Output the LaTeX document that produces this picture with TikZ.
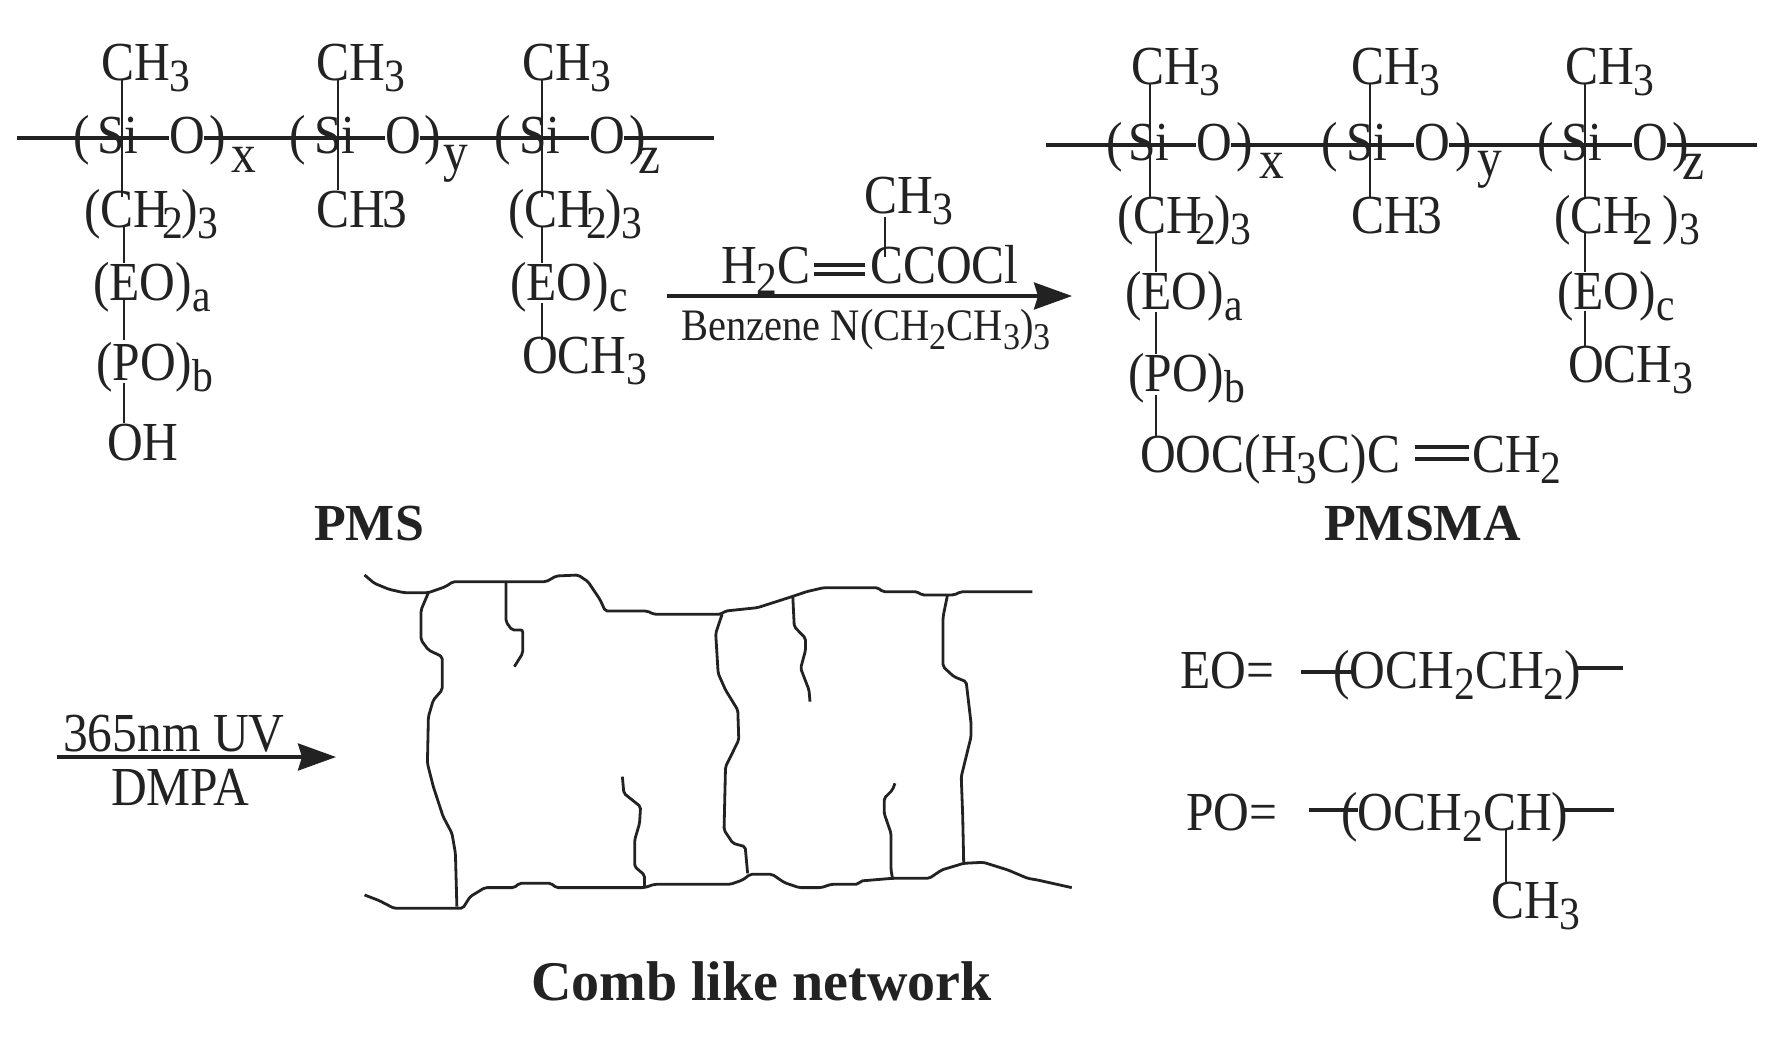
\documentclass[tikz,border=0pt]{standalone}
\usepackage{fontspec}
\usepackage{graphicx}
\setmainfont{Liberation Serif}
\newfontfamily\cf[FakeStretch=0.9]{Liberation Serif}
\usetikzlibrary{arrows.meta}
\definecolor{ink}{HTML}{222222}
\tikzset{
  chem/.style={anchor=base west,inner sep=0pt,text=ink,font=\cf\fontsize{55}{60}\selectfont},
  small chem/.style={chem,font=\cf\fontsize{45}{50}\selectfont},
  title chem/.style={anchor=base west,inner sep=0pt,text=ink,font=\bfseries\fontsize{52}{60}\selectfont},
  bond/.style={draw=ink,line width=2.4pt},
  chain/.style={draw=ink,line width=3.2pt},
  dbl/.style={draw=ink,line width=3.4pt},
  rxn/.style={draw=ink,line width=3.4pt,-{Stealth[length=38pt,width=27pt,inset=4pt]}},
  net/.style={draw=ink,line width=2.8pt,line join=round,rounded corners=2pt}
}
\newcommand\sbs[1]{\raisebox{-.2em}{\scalebox{.84}{#1}}}
\newcommand\chemT[4]{\node[chem] (#1) at (#2,#3) {#4};}
\newcommand\bnd[7][bond]{\draw[#1] ([shift={(#3,#4)}]#2.base west) -- ([shift={(#6,#7)}]#5.base west);}
\begin{document}
\begin{tikzpicture}[x=1pt,y=-1pt]
\useasboundingbox (0,0) rectangle (1780,1045);
\fill[white] (0,0) rectangle (1780,1045);
% ---- PMS
\chemT{a1}{101}{80}{CH\sbs{3}}
\chemT{a2}{316}{80}{CH\sbs{3}}
\chemT{a3}{522}{80}{CH\sbs{3}}
\chemT{pa1}{73}{153}{(}\chemT{si1}{97}{153}{Si}\chemT{o1}{169}{153}{O}\chemT{qa1}{209}{153}{)}\chemT{xa}{231}{172}{x}
\chemT{pa2}{289}{153}{(}\chemT{si2}{314}{153}{Si}\chemT{o2}{385}{153}{O}\chemT{qa2}{424}{153}{)}\chemT{ya}{443}{170}{y}
\chemT{pa3}{494}{153}{(}\chemT{si3}{519}{153}{Si}\chemT{o3}{589}{153}{O}\chemT{qa3}{629}{153}{)}\chemT{za}{638}{173}{z}
\coordinate (la) at (17,138);\coordinate (ra) at (714,138);
\bnd[chain]{la}{0}{0}{o1}{0}{-15}
\bnd[chain]{o1}{35}{-15}{o2}{0}{-15}
\bnd[chain]{o2}{35}{-15}{o3}{0}{-15}
\bnd[chain]{o3}{35}{-15}{ra}{0}{0}
\chemT{c1}{84}{227}{(CH\kern-.12em\sbs{2}\kern-.04em)\sbs{3}}
\chemT{c2}{316}{227}{CH\kern-.04em 3}
\chemT{c3}{508}{227}{(CH\kern-.12em\sbs{2}\kern-.04em)\sbs{3}}
\chemT{e1}{93}{300}{(EO)\sbs{a}}
\chemT{e3}{510}{300}{(EO)\sbs{c}}
\chemT{p1}{96}{380}{(PO)\sbs{b}}
\chemT{oc}{522}{373}{OCH\sbs{3}}
\chemT{oh}{107}{460}{OH}
\bnd{a1}{21}{0}{si1}{25}{0}
\bnd{si1}{25}{0}{c1}{38}{-30}
\bnd{a2}{22}{0}{si2}{24}{0}
\bnd{si2}{24}{0}{c2}{22}{-37}
\bnd{a3}{20}{0}{si3}{23}{0}
\bnd{si3}{23}{0}{c3}{34}{-30}
\bnd{c1}{40}{0}{e1}{31}{-37}
\bnd{e1}{31}{0}{p1}{28}{-40}
\bnd{p1}{28}{3}{oh}{17}{-37}
\bnd{c3}{34}{0}{e3}{32}{-37}
\bnd{e3}{32}{3}{oc}{20}{-33}
\node[title chem] (pms) at (314,540) {PMS};
% ---- reagent
\chemT{rc}{864}{213}{CH\sbs{3}}
\chemT{rh}{721}{283}{H\sbs{2}C}
\chemT{rk}{870}{283}{CCOCl}
\bnd{rc}{21}{4}{rk}{15}{-26}
\bnd[dbl]{rh}{93}{-18}{rk}{-5}{-18}
\bnd[dbl]{rh}{93}{-9}{rk}{-5}{-9}
\node[small chem] (rb) at (681,340) {Benzene N(CH\sbs{2}CH\sbs{3})\sbs{3}};
\coordinate (ar1) at (667,296);\coordinate (ar2) at (1072,296);
\draw[rxn] (ar1) -- (ar2);
% ---- PMSMA
\chemT{b1}{1131}{84}{CH\sbs{3}}
\chemT{b2}{1351}{84}{CH\sbs{3}}
\chemT{b3}{1565}{84}{CH\sbs{3}}
\chemT{pb1}{1106}{160}{(}\chemT{sj1}{1128}{160}{Si}\chemT{oj1}{1196}{160}{O}\chemT{qb1}{1236}{160}{)}\chemT{xb}{1259}{178}{x}
\chemT{pb2}{1321}{160}{(}\chemT{sj2}{1346}{160}{Si}\chemT{oj2}{1414}{160}{O}\chemT{qb2}{1455}{160}{)}\chemT{yb}{1477}{176}{y}
\chemT{pb3}{1537}{160}{(}\chemT{sj3}{1561}{160}{Si}\chemT{oj3}{1632}{160}{O}\chemT{qb3}{1672}{160}{)}\chemT{zb}{1682}{179}{z}
\coordinate (lb) at (1046,145);\coordinate (rb2) at (1757,145);
\bnd[chain]{lb}{0}{0}{oj1}{0}{-15}
\bnd[chain]{oj1}{35}{-15}{oj2}{0}{-15}
\bnd[chain]{oj2}{35}{-15}{oj3}{0}{-15}
\bnd[chain]{oj3}{35}{-15}{rb2}{0}{0}
\chemT{d1}{1117}{233}{(CH\kern-.12em\sbs{2}\kern-.04em)\sbs{3}}
\chemT{d2}{1351}{233}{CH\kern-.04em 3}
\chemT{d3}{1554}{233}{(CH\kern-.12em\sbs{2}\,)\sbs{3}}
\chemT{f1}{1125}{309}{(EO)\sbs{a}}
\chemT{f3}{1557}{309}{(EO)\sbs{c}}
\chemT{g1}{1128}{391}{(PO)\sbs{b}}
\chemT{od}{1568}{382}{OCH\sbs{3}}
\chemT{oo}{1140}{472}{OOC(H\sbs{3}C)C}
\chemT{ch}{1472}{472}{CH\sbs{2}}
\bnd{b1}{19}{0}{sj1}{22}{0}
\bnd{sj1}{22}{0}{d1}{33}{-36}
\bnd{b2}{19}{0}{sj2}{24}{0}
\bnd{sj2}{24}{0}{d2}{19}{-36}
\bnd{b3}{20}{0}{sj3}{24}{0}
\bnd{sj3}{24}{0}{d3}{31}{-36}
\bnd{d1}{39}{0}{f1}{31}{-37}
\bnd{f1}{31}{3}{g1}{28}{-37}
\bnd{g1}{28}{4}{oo}{16}{-36}
\bnd{d3}{31}{0}{f3}{28}{-37}
\bnd{f3}{28}{2}{od}{17}{-36}
\bnd[dbl]{oo}{275}{-25}{ch}{-3}{-25}
\bnd[dbl]{oo}{275}{-13}{ch}{-3}{-13}
\node[title chem] (pmsma) at (1324,540) {PMSMA};
% ---- lower arrow
\chemT{uv}{63}{751}{365nm UV}
\chemT{dm}{111}{805}{DMPA}
\coordinate (au1) at (57,757);\coordinate (au2) at (336,757);
\draw[rxn] (au1) -- (au2);
% ---- network
\begin{scope}[shift={(340pt,-550pt)},x=0.4911pt,y=-0.3333pt]
\draw[net] (50,75) -- (70,100) -- (100,118) -- (130,128) -- (180,128) -- (215,110) -- (230,95) -- (420,95) -- (440,78) -- (485,75) -- (505,95) -- (530,150) -- (540,183) -- (625,183) -- (640,193) -- (775,193) -- (785,183) -- (850,173) -- (920,140) -- (950,125) -- (985,113) -- (1095,113) -- (1105,125) -- (1175,125) -- (1185,135) -- (1250,135) -- (1265,125) -- (1410,125);
\draw[net] (50,1035) -- (80,1052) -- (110,1075) -- (250,1075) -- (265,1040) -- (295,1013) -- (355,1013) -- (365,1000) -- (430,1000) -- (440,1013) -- (620,1013) -- (640,1003) -- (795,1003) -- (820,990) -- (835,973) -- (880,973) -- (905,998) -- (935,1013) -- (980,1013) -- (1000,1003) -- (1055,1003) -- (1060,993) -- (1125,985) -- (1200,985) -- (1225,960) -- (1270,940) -- (1310,937) -- (1360,960) -- (1400,985) -- (1420,990) -- (1490,1013);
\draw[net] (180,128) -- (165,180) -- (165,270) -- (180,300) -- (208,320) -- (208,420) -- (190,450) -- (180,500) -- (178,640) -- (190,710) -- (210,800) -- (228,850) -- (235,910) -- (238,1070);
\draw[net] (338,95) -- (338,215) -- (350,240) -- (372,240) -- (372,310) -- (355,350);
\draw[net] (778,193) -- (765,250) -- (770,370) -- (785,420) -- (810,480) -- (812,570) -- (785,650) -- (782,840) -- (800,880) -- (825,890) -- (830,970);
\draw[net] (922,140) -- (925,230) -- (948,265) -- (948,300) -- (938,355) -- (955,420) -- (957,455);
\draw[net] (1237,135) -- (1228,200) -- (1228,350) -- (1250,380) -- (1275,395) -- (1285,520) -- (1285,560) -- (1265,680) -- (1268,800) -- (1270,940);
\draw[net] (575,680) -- (578,730) -- (612,770) -- (610,820) -- (600,870) -- (600,950) -- (620,975) -- (620,1013);
\draw[net] (1130,700) -- (1125,720) -- (1108,745) -- (1108,790) -- (1122,850) -- (1122,960) -- (1125,985);
\end{scope}
\node[anchor=base west,inner sep=0pt,text=ink,font=\bfseries\fontsize{56}{60}\selectfont] (comb) at (531,1000) {Comb like network};
% ---- legend
\chemT{eo}{1180}{688}{EO=}
\chemT{eoc}{1333}{688}{(OCH\sbs{2}CH\sbs{2})}
\coordinate (el) at (1301,672);\coordinate (er) at (1623,668);
\bnd[chain]{el}{0}{0}{eoc}{20}{-16}
\bnd[chain]{eoc}{244}{-20}{er}{0}{0}
\chemT{po}{1186}{830}{PO=}
\chemT{poc}{1341}{830}{(OCH\sbs{2}CH)}
\chemT{poh}{1491}{918}{CH\sbs{3}}
\coordinate (pl) at (1309,810);\coordinate (pr) at (1614,810);
\bnd[chain]{pl}{0}{0}{poc}{17}{-20}
\bnd[chain]{poc}{221}{-20}{pr}{0}{0}
\bnd{poc}{165}{0}{poh}{15}{-36}
\end{tikzpicture}
\end{document}
